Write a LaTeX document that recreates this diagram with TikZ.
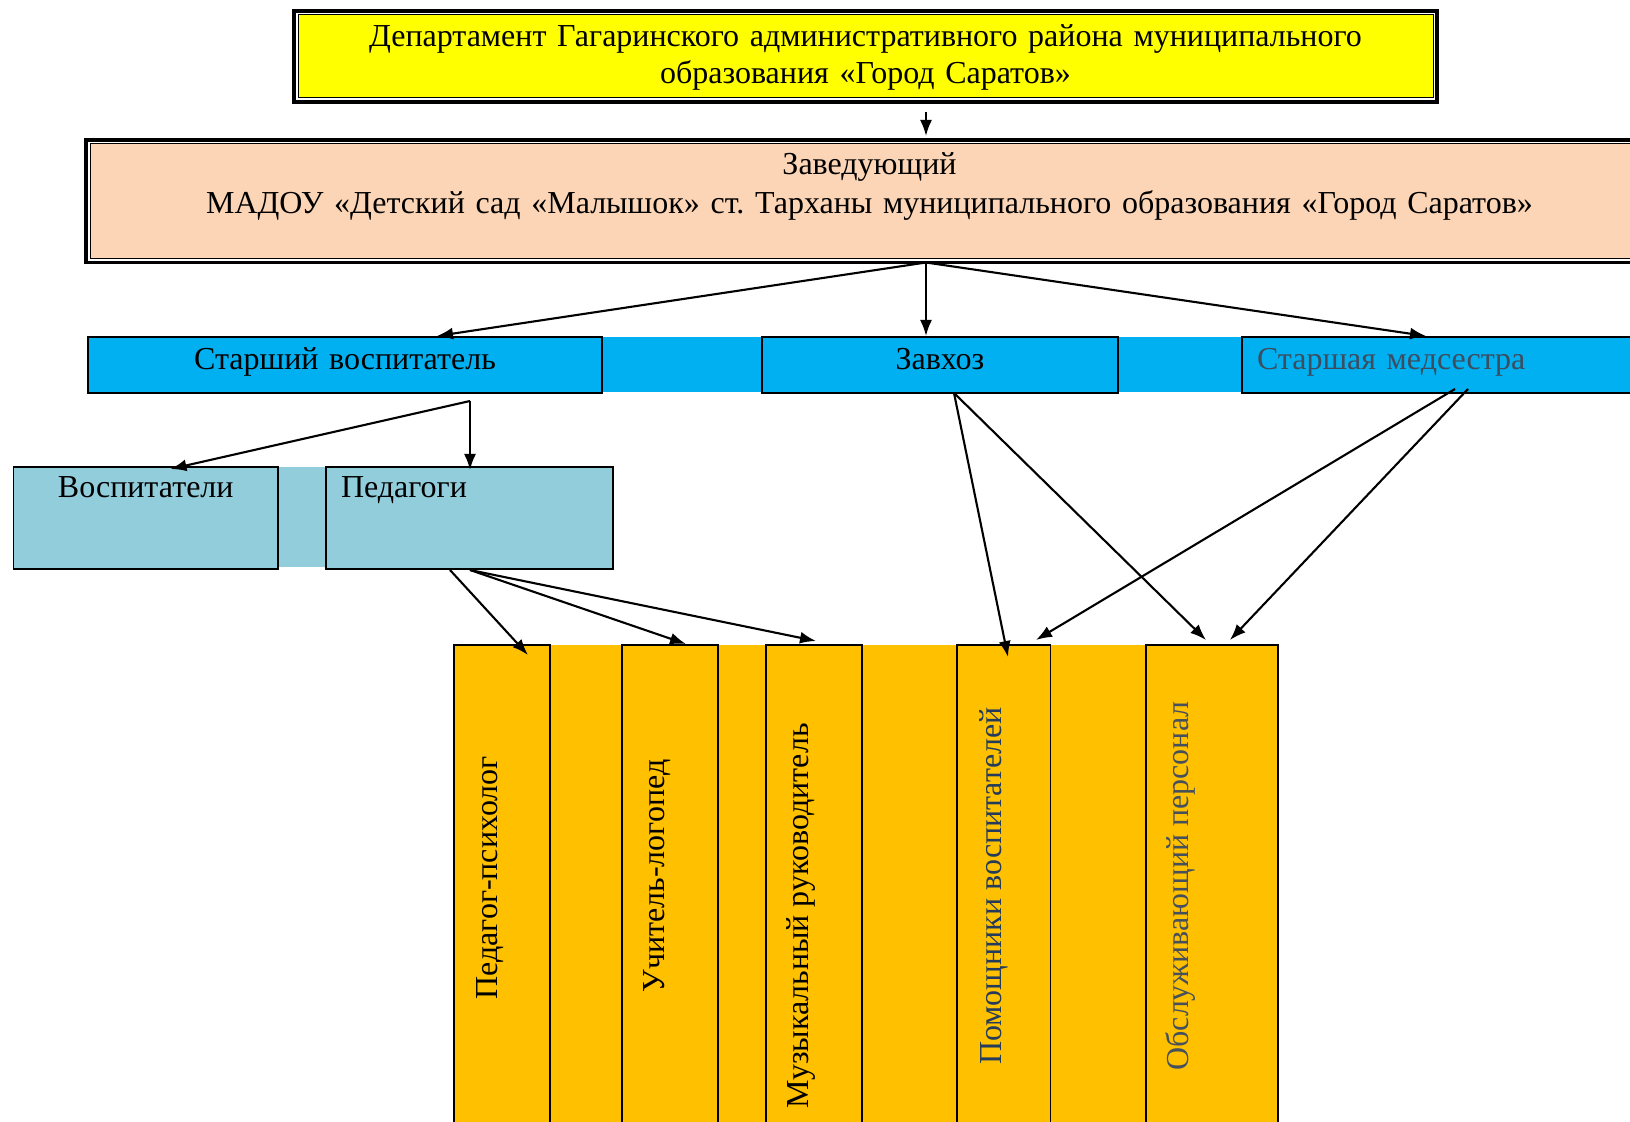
\documentclass[tikz,border=0pt]{standalone}
\usepackage{fontspec}
\setmainfont{Liberation Serif}
\usetikzlibrary{arrows.meta,calc}
\definecolor{deptyellow}{HTML}{FFFF00}
\definecolor{headpeach}{HTML}{FBD5B5}
\definecolor{unitblue}{HTML}{00B0F0}
\definecolor{staffblue}{HTML}{92CDDC}
\definecolor{roleamber}{HTML}{FFC000}
\definecolor{medgray}{HTML}{3C4D60}
\definecolor{pomnavy}{HTML}{243B5A}
\definecolor{obsgray}{HTML}{45505C}
\frenchspacing

\begin{document}
\begin{tikzpicture}[
  x=0.5pt, y=-0.5pt,
  >={Latex[length=8pt,width=6pt]},
  every node/.style={font=\fontsize{16}{18.5}\selectfont, inner sep=0pt, outer sep=0pt, anchor=north west},
  dblbox/.style={draw, fill=white, line width=1.6pt, align=center,
    path picture={\draw[line width=0.5pt, fill=#1]
      ([shift={(2pt,-2pt)}]path picture bounding box.north west) rectangle
      ([shift={(-2pt,2pt)}]path picture bounding box.south east);}},
  unit/.style ={draw, fill=unitblue, line width=0.9pt, text height=16.5pt, text depth=11.5pt},
  staff/.style={draw, fill=staffblue, line width=0.9pt, text height=15.5pt, text depth=35.5pt},
  role/.style ={draw, fill=roleamber, line width=0.9pt, minimum height=247.5pt},
  roletxt/.style={rotate=90, anchor=base},
  link/.style={->, line width=1.05pt}
]
\useasboundingbox (0,0) rectangle (1630,1122);

% --- top level
\node[dblbox=deptyellow, text width=571.5pt, text height=18pt, text depth=27.5pt] (dep) at (294,11)
  {Департамент Гагаринского административного района муниципального\\образования «Город Саратов»};
\node[dblbox=headpeach, text width=783.5pt, text height=17.5pt, text depth=43.75pt,
      font=\fontsize{16}{19.5}\selectfont] (zav) at (86,140)
  {Заведующий\\МАДОУ «Детский сад «Малышок» ст. Тарханы муниципального образования «Город Саратов»};

% --- second level (blue band)
\fill[unitblue] (88,337) rectangle (1645,392);
\node[unit, text width=257pt, align=center] (stv) at (88,337) {Старший воспитатель};
\node[unit, text width=178pt, align=center] (zavh) at (762,337) {Завхоз};
\node[unit, text width=186.5pt, inner xsep=7.5pt, align=left, text=medgray] (med) at (1242,337) {Старшая медсестра};

% --- third level
\fill[staffblue] (13,467) rectangle (613,567);
\node[staff, text width=132.25pt, align=center] (vos) at (13.5,467) {Воспитатели};
\node[staff, text width=128.5pt, inner xsep=7.5pt, align=left] (ped) at (326,467) {Педагоги};

% --- staff columns
\fill[roleamber] (454,645) rectangle (1278,1140);
\node[role, minimum width=48pt]    (psy) at (454,645) {};
\node[role, minimum width=48pt]    (log) at (622,645) {};
\node[role, minimum width=48pt]    (mus) at (766,645) {};
\node[role, minimum width=46.75pt] (pom) at (957,645) {};
\node[role, minimum width=66pt]    (obs) at (1146,645) {};

\node[roletxt] (psyt) at (497,878) {Педагог-психолог};
\node[roletxt] (logt) at (664,876) {Учитель-логопед};
\node[roletxt] (must) at (808,916) {Музыкальный руководитель};
\node[roletxt, text=pomnavy] (pomt) at (1001,886) {Помощники воспитателей};
\node[roletxt, text=obsgray] (obst) at (1188,886) {Обслуживающий персонал};

% --- links
\draw[link] ($(dep.south west)+(632,10)$) -- ($(zav.north west)+(840,-4)$);
\draw[link] ($(zav.south west)+(840,0)$) -- ($(stv.north west)+(349,-1)$);
\draw[link] ($(zav.south west)+(840,0)$) -- ($(zavh.north west)+(164,-1)$);
\draw[link] ($(zav.south west)+(840,0)$) -- ($(med.north west)+(184,-1)$);

\draw[link] ($(stv.south west)+(382,8)$) -- ($(vos.north west)+(157,2)$);
\draw[link] ($(stv.south west)+(382,8)$) -- ($(ped.north west)+(144,3)$);

\draw[link] ($(ped.south west)+(124,1)$) -- ($(psy.north west)+(74,10)$);
\draw[link] ($(ped.south west)+(144,1)$) -- ($(log.north west)+(64,-1)$);
\draw[link] ($(ped.south west)+(144,1)$) -- ($(mus.north west)+(50,-4)$);

\draw[link] ($(zavh.south west)+(192,0)$) -- ($(pom.north west)+(51,12)$);
\draw[link] ($(zavh.south west)+(192,0)$) -- ($(obs.north west)+(60,-5)$);
\draw[link] ($(med.south west)+(213,-4)$) -- ($(pom.north west)+(79,-5)$);
\draw[link] ($(med.south west)+(226,-4)$) -- ($(obs.north west)+(84,-5)$);

\end{tikzpicture}
\end{document}
